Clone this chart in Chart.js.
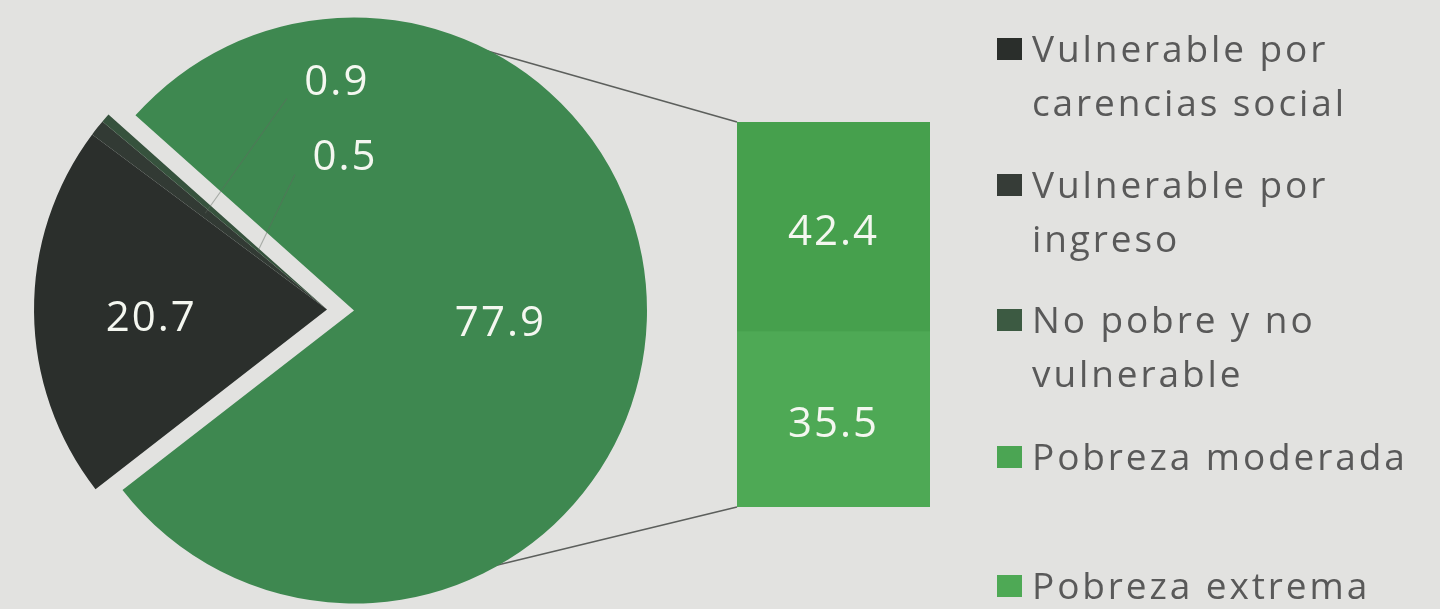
<!DOCTYPE html>
<html>
<head>
<meta charset="utf-8">
<script src="https://cdn.jsdelivr.net/npm/chart.js@4.4.1/dist/chart.umd.min.js"></script>
<style>
  html, body { margin: 0; padding: 0; background: #e2e2e0; }
  #wrap { position: relative; width: 1440px; height: 609px; overflow: hidden; background: #e2e2e0; }
  canvas { position: absolute; }
  #legend { position: absolute; left: 997px; top: 0; font-family: 'Open Sans', sans-serif; color: #595959; }
  .item { position: absolute; left: 0; white-space: nowrap; }
  .sw { position: absolute; left: 0; width: 25px; height: 22px; }
  .txt { position: absolute; left: 35px; top: 0; font-size: 37px; line-height: 54px; letter-spacing: 2.9px; }
</style>
</head>
<body>
<div id="wrap">
  <canvas id="lines" width="1440" height="609" style="left:0;top:0;"></canvas>
  <canvas id="pie" width="708" height="609" style="left:0;top:0;"></canvas>
  <canvas id="bar" width="193" height="385" style="left:737px;top:122px;"></canvas>
  <div id="legend"></div>
</div>
<script>
// ---------- data ----------
const pieLabels = ['Vulnerable por carencias social', 'Vulnerable por ingreso', 'No pobre y no vulnerable', 'Pobreza'];
const pieValues = [20.7, 0.9, 0.5, 77.9];
const barLabels = ['Pobreza extrema', 'Pobreza moderada'];   // bottom to top
const barValues = [35.5, 42.4];
const legendLabels = [
  ['Vulnerable por', 'carencias social'],
  ['Vulnerable por', 'ingreso'],
  ['No pobre y no', 'vulnerable'],
  ['Pobreza moderada'],
  ['Pobreza extrema']
];

// ---------- styles ----------
const pieColors = ['#2b2f2c', '#323a34', '#36523d', '#3e8850'];
const barColors = ['#4ea955', '#46a04d'];
const legendColors = ['#2a2e2b', '#363c37', '#3c5a42', '#4ba553', '#4ea955'];
const legendBaselines = [62, 198, 333, 470, 599];
const explodeIdx = [0, 1, 2];
const EXPLODE = 27;
const labelFont = '42px "Open Sans"';
const mainLabelFrac = [0.6, null, null, 0.5];
const smallLabelPolar = { 1: { ang: -94.3, frac: 0.78, leader: 0.53 }, 2: { ang: -93.4, frac: 0.52, leader: 0.31 } };
const connectorAngles = [-66, 63];

// ---------- legend (HTML) ----------
const legendEl = document.getElementById('legend');
legendLabels.forEach((lines, i) => {
  const item = document.createElement('div');
  item.className = 'item';
  const base = legendBaselines[i];
  item.style.top = (base - 41.4) + 'px';
  const sw = document.createElement('div');
  sw.className = 'sw';
  sw.style.background = legendColors[i];
  sw.style.top = (41.4 - 24) + 'px';
  const txt = document.createElement('div');
  txt.className = 'txt';
  txt.innerHTML = lines.join('<br>');
  item.appendChild(sw); item.appendChild(txt);
  legendEl.appendChild(item);
});

// ---------- pie plugins ----------
const explodePlugin = {
  id: 'explode',
  afterUpdate(chart) {
    const els = chart.getDatasetMeta(0).data;
    const first = els[explodeIdx[0]], last = els[explodeIdx[explodeIdx.length - 1]];
    const mid = (first.startAngle + last.endAngle) / 2;
    chart.$explode = { dx: Math.cos(mid) * EXPLODE, dy: Math.sin(mid) * EXPLODE };
    explodeIdx.forEach(i => {
      const el = els[i];
      if (!el.$wrapped) {
        const orig = el.draw;
        el.draw = function (ctx, area) {
          ctx.save();
          ctx.translate(chart.$explode.dx, chart.$explode.dy);
          orig.call(this, ctx, area);
          ctx.restore();
        };
        el.$wrapped = true;
      }
    });
  }
};

function drawText(ctx, text, x, y) {
  ctx.save();
  ctx.font = labelFont;
  try { ctx.letterSpacing = '2px'; } catch (e) {}
  ctx.fillStyle = '#f4f7f0';
  ctx.textAlign = 'center';
  ctx.textBaseline = 'middle';
  ctx.fillText(text, x, y);
  ctx.restore();
}

const pieLabelPlugin = {
  id: 'pieLabels',
  afterDatasetsDraw(chart) {
    const ctx = chart.ctx;
    const els = chart.getDatasetMeta(0).data;
    const ex = chart.$explode || { dx: 0, dy: 0 };
    els.forEach((el, i) => {
      const p = el.getProps(['x', 'y', 'startAngle', 'endAngle', 'outerRadius'], true);
      const shifted = explodeIdx.includes(i);
      const cx = p.x + (shifted ? ex.dx : 0), cy = p.y + (shifted ? ex.dy : 0);
      const mid = (p.startAngle + p.endAngle) / 2;
      const txt = pieValues[i].toFixed(1);
      if (mainLabelFrac[i] != null) {
        const r = p.outerRadius * mainLabelFrac[i];
        drawText(ctx, txt, cx + Math.cos(mid) * r, cy + Math.sin(mid) * r + 8);
      } else {
        const cfg = smallLabelPolar[i];
        const a = cfg.ang * Math.PI / 180;
        const lx = p.x + Math.cos(a) * p.outerRadius * cfg.frac;
        const ly = p.y + Math.sin(a) * p.outerRadius * cfg.frac;
        // leader line
        const tx = cx + Math.cos(mid) * p.outerRadius * cfg.leader;
        const ty = cy + Math.sin(mid) * p.outerRadius * cfg.leader;
        ctx.save();
        ctx.strokeStyle = 'rgba(95,105,95,0.45)';
        ctx.lineWidth = 1.1;
        ctx.beginPath();
        ctx.moveTo(lx - 50, ly + 16);
        ctx.lineTo(tx, ty);
        ctx.stroke();
        ctx.restore();
        drawText(ctx, txt, lx, ly);
      }
    });
  }
};

const pieChart = new Chart(document.getElementById('pie'), {
  type: 'pie',
  data: {
    labels: pieLabels,
    datasets: [{
      data: pieValues,
      backgroundColor: pieColors,
      borderWidth: 0,
      rotation: 232.2,
      radius: 293
    }]
  },
  options: {
    responsive: false,
    animation: false,
    rotation: 232.2,
    radius: 293,
    layout: { padding: { top: 12 } },
    plugins: { legend: { display: false }, tooltip: { enabled: false } }
  },
  plugins: [explodePlugin, pieLabelPlugin]
});

// ---------- bar ----------
const barLabelPlugin = {
  id: 'barLabels',
  afterDatasetsDraw(chart) {
    chart.data.datasets.forEach((ds, di) => {
      const el = chart.getDatasetMeta(di).data[0];
      const p = el.getProps(['x', 'y', 'base'], true);
      drawText(chart.ctx, barValues[di].toFixed(1), p.x, (p.y + p.base) / 2 + 6);
    });
  }
};

const barTotal = barValues.reduce((a, b) => a + b, 0);
const barChart = new Chart(document.getElementById('bar'), {
  type: 'bar',
  data: {
    labels: [''],
    datasets: barLabels.map((lab, i) => ({
      label: lab,
      data: [barValues[i]],
      backgroundColor: barColors[i],
      borderWidth: 0,
      barPercentage: 1,
      categoryPercentage: 1
    }))
  },
  options: {
    responsive: false,
    animation: false,
    layout: { padding: 0 },
    plugins: { legend: { display: false }, tooltip: { enabled: false } },
    scales: {
      x: { display: false, stacked: true },
      y: { display: false, stacked: true, min: 0, max: barTotal }
    }
  },
  plugins: [barLabelPlugin]
});

// ---------- connector lines ----------
(function () {
  const lc = document.getElementById('lines');
  const ctx = lc.getContext('2d');
  const pieCanvas = document.getElementById('pie');
  const barCanvas = document.getElementById('bar');
  const pEl = pieChart.getDatasetMeta(0).data[3];
  const pcx = pEl.x + pieCanvas.offsetLeft, pcy = pEl.y + pieCanvas.offsetTop;
  const R = pEl.outerRadius;
  const bottomEl = barChart.getDatasetMeta(0).data[0];
  const topEl = barChart.getDatasetMeta(barLabels.length - 1).data[0];
  const bx = bottomEl.x - bottomEl.width / 2 + barCanvas.offsetLeft;
  const topY = topEl.y + barCanvas.offsetTop;
  const botY = bottomEl.base + barCanvas.offsetTop;
  const ends = [topY, botY];
  ctx.strokeStyle = '#5c5f5c';
  ctx.lineWidth = 1.6;
  connectorAngles.forEach((deg, k) => {
    const a = deg * Math.PI / 180;
    ctx.beginPath();
    ctx.moveTo(pcx + Math.cos(a) * (R - 4), pcy + Math.sin(a) * (R - 4));
    ctx.lineTo(bx, ends[k]);
    ctx.stroke();
  });
})();
</script>
</body>
</html>
